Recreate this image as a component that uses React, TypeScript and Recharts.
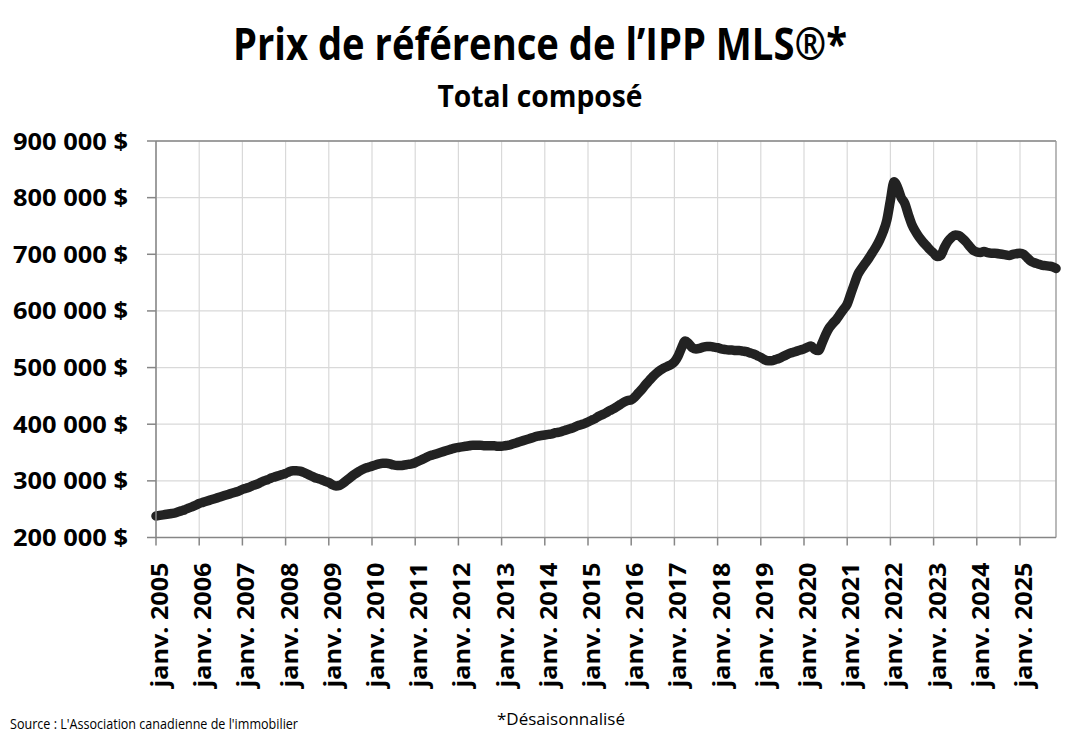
import { LineChart, Line, XAxis, YAxis, CartesianGrid, ReferenceLine } from "recharts";

const FONT = "'Open Sans', 'Noto Sans', sans-serif";

const months = ["janv.", "févr.", "mars", "avr.", "mai", "juin", "juil.", "août", "sept.", "oct.", "nov.", "déc."];
const years = [2005, 2006, 2007, 2008, 2009, 2010, 2011, 2012, 2013, 2014, 2015, 2016, 2017, 2018, 2019, 2020, 2021, 2022, 2023, 2024, 2025];

// prix de référence, en milliers de $ (mensuel, désaisonnalisé)
const p2005 = [238, 239, 240, 241, 242, 243, 245, 247, 249, 252, 254, 257];
const p2006 = [260, 262, 264, 266, 268, 270, 272, 274, 276, 278, 280, 282];
const p2007 = [285, 287, 289, 292, 294, 297, 300, 302, 305, 307, 309, 311];
const p2008 = [313, 316, 318, 318, 317, 315, 312, 309, 306, 304, 302, 299];
const p2009 = [297, 293, 291, 292, 296, 301, 306, 311, 315, 319, 322, 324];
const p2010 = [326, 328, 330, 331, 331, 330, 328, 327, 327, 328, 329, 330];
const p2011 = [332, 335, 338, 341, 344, 346, 348, 350, 352, 354, 356, 358];
const p2012 = [359, 360, 361, 362, 363, 363, 363, 362, 362, 362, 362, 361];
const p2013 = [361, 362, 363, 365, 367, 369, 371, 373, 375, 377, 379, 380];
const p2014 = [381, 382, 383, 385, 386, 388, 390, 392, 394, 397, 399, 401];
const p2015 = [404, 407, 410, 414, 417, 420, 424, 427, 431, 435, 439, 442];
const p2016 = [443, 448, 455, 462, 470, 477, 484, 490, 495, 499, 502, 505];
const p2017 = [510, 520, 535, 547, 542, 535, 533, 534, 536, 537, 537, 536];
const p2018 = [535, 533, 532, 531, 531, 530, 530, 529, 528, 526, 524, 521];
const p2019 = [518, 514, 512, 512, 514, 516, 519, 522, 525, 527, 529, 531];
const p2020 = [533, 536, 538, 532, 530, 543, 558, 570, 578, 585, 594, 603];
const p2021 = [612, 630, 648, 665, 675, 684, 693, 703, 713, 725, 740, 760];
const p2022 = [795, 828, 818, 800, 790, 770, 752, 740, 730, 722, 715, 708];
const p2023 = [702, 696, 698, 712, 723, 730, 734, 733, 728, 722, 714, 707];
const p2024 = [704, 703, 705, 703, 702, 702, 701, 700, 699, 698, 700, 701];
const p2025 = [702, 700, 694, 688, 685, 683, 681, 680, 679, 678, 675];

const perYear = [p2005, p2006, p2007, p2008, p2009, p2010, p2011, p2012, p2013, p2014, p2015, p2016, p2017, p2018, p2019, p2020, p2021, p2022, p2023, p2024, p2025];

const yTicks = [200000, 300000, 400000, 500000, 600000, 700000, 800000, 900000];
const xTicks = years.map((y) => `janv. ${y}`);

const data = years.flatMap((y, i) =>
  perYear[i].map((v, m) => ({ mois: `${months[m]} ${y}`, prix: v * 1000 }))
);
const lastMonth = data[data.length - 1].mois;

const fmtPrix = (v: number) => `${v / 1000} 000 $`;

const XTick = ({ x, y, payload }: any) => (
  <text
    transform={`translate(${x + 12},${y}) rotate(-90)`}
    textAnchor="end"
    fontFamily={FONT}
    fontWeight={700}
    fontSize={23}
    fill="#000"
    textLength={125}
    lengthAdjust="spacingAndGlyphs"
  >
    {payload.value}
  </text>
);

const YTick = ({ x, y, payload }: any) => (
  <text
    x={x}
    y={y + 8.5}
    textAnchor="end"
    fontFamily={FONT}
    fontWeight={700}
    fontSize={24}
    fill="#000"
    textLength={115}
    lengthAdjust="spacingAndGlyphs"
  >
    {fmtPrix(payload.value)}
  </text>
);

export default function App() {
  return (
    <div style={{ position: "absolute", left: 0, top: 0, width: 1079, height: 740, background: "#fff" }}>
      <LineChart width={1079} height={740} data={data} margin={{ top: 141, right: 23, left: 0, bottom: 0 }}>
        <CartesianGrid stroke="#d9d9d9" strokeWidth={1.2} />
        <XAxis
          dataKey="mois"
          ticks={xTicks}
          interval={0}
          height={202.5}
          tick={<XTick />}
          tickSize={8}
          tickMargin={17}
          axisLine={{ stroke: "#868686", strokeWidth: 1.5 }}
          tickLine={{ stroke: "#868686", strokeWidth: 1.5 }}
        />
        <YAxis
          domain={[200000, 900000]}
          ticks={yTicks}
          width={156}
          tick={<YTick />}
          tickSize={9}
          tickMargin={19}
          axisLine={{ stroke: "#868686", strokeWidth: 1.5 }}
          tickLine={{ stroke: "#868686", strokeWidth: 1.5 }}
        />
        <ReferenceLine y={900000} stroke="#868686" strokeWidth={1.5} />
        <ReferenceLine x={lastMonth} stroke="#9a9a9a" strokeWidth={1.2} />
        <Line
          type="monotone"
          dataKey="prix"
          stroke="#222"
          strokeWidth={9.5}
          strokeLinejoin="round"
          strokeLinecap="round"
          dot={false}
          isAnimationActive={false}
        />
      </LineChart>
      <svg width={1079} height={740} style={{ position: "absolute", left: 0, top: 0, pointerEvents: "none" }}>
        <text x={540} y={60} textAnchor="middle" fontFamily={FONT} fontWeight={700} fontSize={45} fill="#000" textLength={614} lengthAdjust="spacingAndGlyphs">
          Prix de référence de l’IPP MLS®*
        </text>
        <text x={540} y={107} textAnchor="middle" fontFamily={FONT} fontWeight={700} fontSize={30} fill="#000" textLength={205} lengthAdjust="spacingAndGlyphs">
          Total composé
        </text>
        <text x={10} y={729} fontFamily={FONT} fontSize={14} fill="#000" textLength={288} lengthAdjust="spacingAndGlyphs">
          Source : L'Association canadienne de l'immobilier
        </text>
        <text x={561} y={725} textAnchor="middle" fontFamily={FONT} fontSize={17} fill="#000" textLength={128} lengthAdjust="spacingAndGlyphs">
          *Désaisonnalisé
        </text>
      </svg>
    </div>
  );
}
